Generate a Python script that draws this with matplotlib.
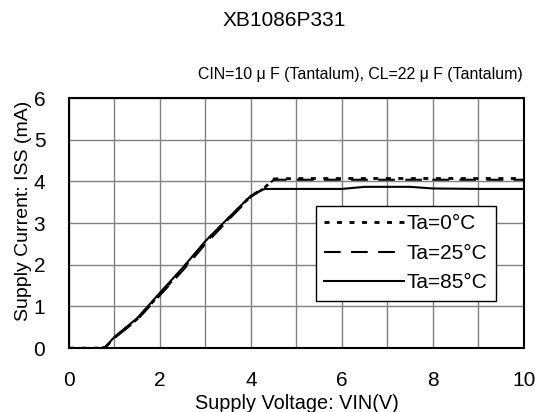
import matplotlib
matplotlib.use("Agg")
import matplotlib.pyplot as plt

plt.rcParams['font.family'] = ['Liberation Sans', 'DejaVu Sans']

vin = [0, 0.5, 0.7, 0.8, 1.0, 1.5, 2.0, 2.5, 3.0, 3.5, 4.0, 4.3, 4.5, 5.0, 6.0, 6.5, 7.0, 7.5, 8.0, 9.0, 10.0]
iss_0 = [0, 0, 0, 0.02, 0.25, 0.7, 1.3, 1.9, 2.55, 3.1, 3.65, 3.85, 4.06, 4.07, 4.07, 4.07, 4.07, 4.07, 4.07, 4.07, 4.07]
iss_25 = [0, 0, 0, 0.02, 0.24, 0.68, 1.27, 1.86, 2.5, 3.07, 3.63, 3.85, 4.04, 4.04, 4.04, 4.04, 4.04, 4.04, 4.04, 4.04, 4.04]
iss_85 = [0, 0, 0, 0.03, 0.27, 0.72, 1.33, 1.93, 2.57, 3.12, 3.66, 3.82, 3.82, 3.82, 3.82, 3.87, 3.87, 3.87, 3.83, 3.82, 3.82]

labels = ['Ta=0°C', 'Ta=25°C', 'Ta=85°C']
x_ticks = [0, 2, 4, 6, 8, 10]
y_ticks = [0, 1, 2, 3, 4, 5, 6]

fig = plt.figure(figsize=(5.43, 4.12), dpi=100)
ax = fig.add_axes([0.127, 0.155, 0.838, 0.607])

ax.plot(vin, iss_0, color='black', lw=2, linestyle=(0, (1.8, 2.7)), label=labels[0])
ax.plot(vin, iss_25, color='black', lw=1.5, linestyle=(0, (8, 5)), label=labels[1])
ax.plot(vin, iss_85, color='black', lw=1.5, linestyle='-', label=labels[2])

ax.set_xlim(0, 10)
ax.set_ylim(0, 6)
ax.set_xticks(x_ticks)
ax.set_yticks(y_ticks)
ax.set_xticks(range(0, 11), minor=True)
ax.grid(True, which='both', color='#808080', lw=1)
ax.tick_params(which='both', direction='in', length=0)
ax.tick_params(axis='x', pad=16.5, labelsize=15)
ax.tick_params(axis='y', pad=17, labelsize=15)
for s in ax.spines.values():
    s.set_linewidth(1.5)
    s.set_color('black')

ax.set_xlabel('Supply Voltage: VIN(V)', fontsize=14.3)
ax.xaxis.label.set_va('baseline')
ax.xaxis.set_label_coords(0.5, -0.244)
ax.set_ylabel('Supply Current: ISS (mA)', fontsize=14)
ax.yaxis.label.set_va('center')
ax.yaxis.set_label_coords(-0.101, 0.548)

leg = ax.legend(loc='upper left', bbox_to_anchor=(0.543, 0.568), borderaxespad=0,
                fontsize=15, frameon=True, fancybox=False, handlelength=3.8,
                handletextpad=0.15, labelspacing=0.5, borderpad=0.4)
leg.get_frame().set_edgecolor('black')
leg.get_frame().set_linewidth(1)
leg.get_frame().set_alpha(1)

fig.text(0.523, 0.951, 'XB1086P331', ha='center', va='center', fontsize=15)
fig.text(0.962, 0.818, 'CIN=10 μ F (Tantalum), CL=22 μ F (Tantalum)', ha='right', va='center', fontsize=11.4)

fig.savefig('out.png', dpi=100)
